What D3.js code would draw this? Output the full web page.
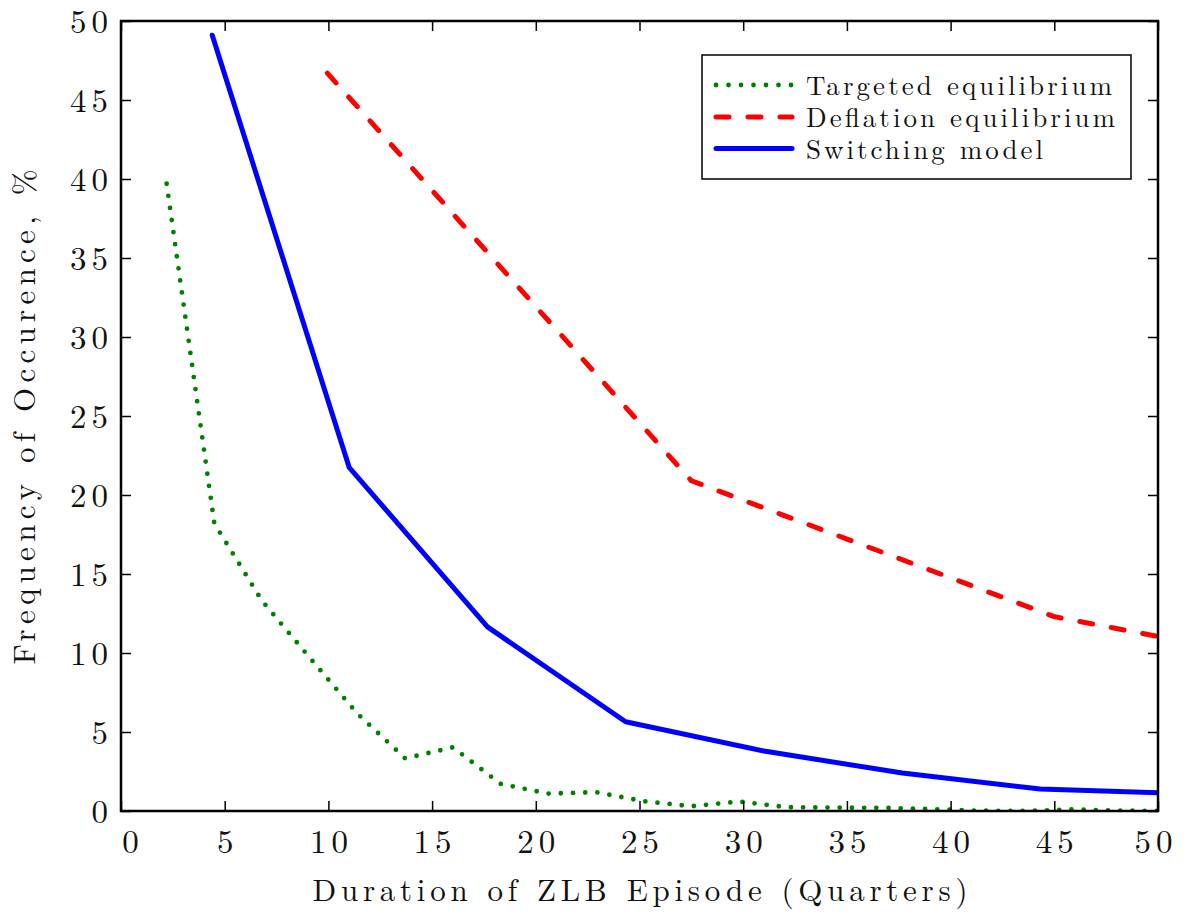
<!DOCTYPE html>
<html>
<head>
<meta charset="utf-8">
<script src="https://cdn.jsdelivr.net/npm/d3@7"></script>
<style>
  html, body { margin: 0; padding: 0; background: #fff; }
  svg { display: block; }
</style>
</head>
<body>
<svg id="chart" width="1190" height="916"></svg>
<script>
// ---- data ----
const xTicks = [0, 5, 10, 15, 20, 25, 30, 35, 40, 45, 50];
const yTicks = [0, 5, 10, 15, 20, 25, 30, 35, 40, 45, 50];

const targetedX = [2.2, 4.5, 6.8, 9.1, 11.4, 13.7, 16.0, 18.3, 20.6, 22.9, 25.2, 27.5, 29.8, 32.1, 34.4, 36.7, 39.0, 41.3, 43.6, 45.9, 48.2, 50.5];
const targetedY = [39.7, 18.2, 13.3, 9.7, 6.16, 3.33, 4.03, 1.72, 1.1, 1.19, 0.62, 0.3, 0.6, 0.24, 0.21, 0.2, 0.12, 0.02, 0.0, 0.1, 0.02, 0.0];

const deflationX = [9.95, 27.5, 45.0, 51.0];
const deflationY = [46.7, 20.9, 12.3, 10.8];

const switchingX = [4.4, 11.0, 17.67, 24.33, 31.0, 37.67, 44.33, 51.0];
const switchingY = [49.1, 21.75, 11.65, 5.65, 3.8, 2.4, 1.39, 1.12];

const seriesNames = ["Targeted equilibrium", "Deflation equilibrium", "Switching model"];
const xLabel = "Duration of ZLB Episode (Quarters)";
const yLabel = "Frequency of Occurence, %";

// ---- layout ----
const FONT = '"Latin Modern Roman", "Liberation Serif", serif';
const L = 121, R = 1158, T = 21, B = 811;
const svg = d3.select("#chart");
const x = d3.scaleLinear().domain([0, 50]).range([L, R]);
const y = d3.scaleLinear().domain([0, 50]).range([B, T]);

svg.append("defs").append("clipPath").attr("id", "clip")
  .append("rect").attr("x", L).attr("y", T).attr("width", R - L).attr("height", B - T);

const zip = (xs, ys) => xs.map((v, i) => [v, ys[i]]);
const line = d3.line().x(d => x(d[0])).y(d => y(d[1]));

const styles = [
  { color: "#008000", width: 4.8, dash: "0 12.2", data: zip(targetedX, targetedY) },
  { color: "#ff0000", width: 5, dash: "13 19", data: zip(deflationX, deflationY) },
  { color: "#0000ff", width: 5, dash: null, data: zip(switchingX, switchingY) }
];

const plot = svg.append("g").attr("clip-path", "url(#clip)");
styles.forEach(s => {
  plot.append("path")
    .attr("d", line(s.data))
    .attr("fill", "none")
    .attr("stroke", s.color)
    .attr("stroke-width", s.width)
    .attr("stroke-linecap", "round")
    .attr("stroke-linejoin", "round")
    .attr("stroke-dasharray", s.dash);
});

// ---- axes ----
const tickLen = 10;
const ls = 5;
const axB = svg.append("g").attr("transform", `translate(0,${B})`)
  .call(d3.axisBottom(x).tickValues(xTicks).tickSize(-tickLen).tickPadding(19).tickFormat(d3.format("d")));
const axT = svg.append("g").attr("transform", `translate(0,${T})`)
  .call(d3.axisTop(x).tickValues(xTicks).tickSize(-tickLen).tickFormat(""));
const axL = svg.append("g").attr("transform", `translate(${L},0)`)
  .call(d3.axisLeft(y).tickValues(yTicks).tickSize(-tickLen).tickPadding(8).tickFormat(d3.format("d")));
const axR = svg.append("g").attr("transform", `translate(${R},0)`)
  .call(d3.axisRight(y).tickValues(yTicks).tickSize(-tickLen).tickFormat(""));

[axB, axT, axL, axR].forEach(a => {
  a.attr("font-family", null);
  a.select(".domain").remove();
  a.selectAll(".tick line").attr("stroke", "#000").attr("stroke-width", 1.5);
  a.selectAll(".tick text")
    .attr("fill", "#111")
    .style("font-family", FONT)
    .style("font-size", "33px")
    .style("letter-spacing", ls + "px");
});
axB.selectAll(".tick text").attr("dx", d => d === 0 ? 11.5 : (d === 50 ? -2.5 : ls / 2));
axL.selectAll(".tick text").attr("dy", "0.34em");

// frame
svg.append("rect").attr("x", L).attr("y", T).attr("width", R - L).attr("height", B - T)
  .attr("fill", "none").attr("stroke", "#000").attr("stroke-width", 2.5);

// ---- axis titles ----
svg.append("text")
  .attr("x", 640).attr("y", 901)
  .attr("text-anchor", "middle")
  .attr("fill", "#111")
  .style("font-family", FONT)
  .style("font-size", "31px")
  .attr("textLength", 655).attr("lengthAdjust", "spacing")
  .text(xLabel);

svg.append("text")
  .attr("transform", `translate(35,${417}) rotate(-90)`)
  .attr("text-anchor", "middle")
  .attr("fill", "#111")
  .style("font-family", FONT)
  .style("font-size", "31px")
  .attr("textLength", 495).attr("lengthAdjust", "spacing")
  .text(yLabel);

// ---- legend ----
const lg = svg.append("g");
lg.append("rect").attr("x", 702).attr("y", 55).attr("width", 429).attr("height", 124)
  .attr("fill", "#fff").attr("stroke", "#000").attr("stroke-width", 1.5);
const rowY = [85, 117, 148.5];
const textLen = [306, 309, 237];
styles.forEach((s, i) => {
  lg.append("line")
    .attr("x1", 716).attr("x2", 792).attr("y1", rowY[i]).attr("y2", rowY[i])
    .attr("stroke", s.color).attr("stroke-width", s.width)
    .attr("stroke-linecap", "round")
    .attr("stroke-dasharray", i === 0 ? "0 12.5" : s.dash);
  lg.append("text")
    .attr("x", 806).attr("y", rowY[i] + 10)
    .attr("fill", "#111")
    .style("font-family", FONT)
    .style("font-size", "27px")
    .attr("textLength", textLen[i]).attr("lengthAdjust", "spacing")
    .text(seriesNames[i]);
});
</script>
</body>
</html>
